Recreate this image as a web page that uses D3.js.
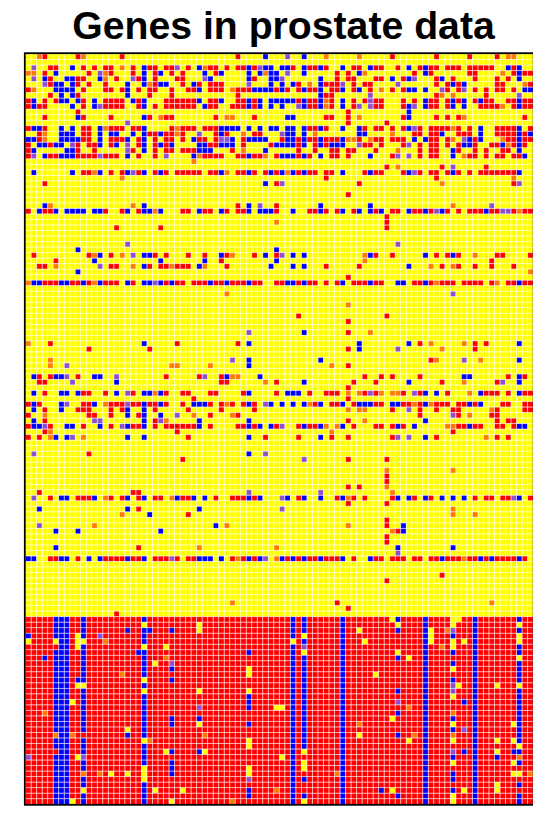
<!DOCTYPE html>
<html><head><meta charset="utf-8">
<script src="https://cdnjs.cloudflare.com/ajax/libs/d3/7.8.5/d3.min.js"></script>
<style>html,body{margin:0;padding:0;background:#fff;overflow:hidden}svg{display:block}</style>
</head><body><svg id="c" width="533" height="818"></svg>
<script>
const chartTitle = "Genes in prostate data";
const geneCount = 92;
const sampleCount = 136;
const firstLowerRow = 102;
const levels = ["y","r","b","o","p"];
const levelColours = ["#ffff00","#ff0000","#0000ff","#ff7a00","#8f50d0"];
// Rows of the upper (yellow background) block: [row, "level+column ..."]
const upperRows = [
[0,"o2 r3 r9 o10 r17 r38 b43 p47 b50 o54 o60 r66 r74 r80 r85 o87 o88"],
[2,"p1 r4 r5 b8 r10 r12 r14 r15 o17 r19 b21 r22 r23 r25 r26 p27 r29 b31 o32 r33 r34 r36 r38 r39 b40 r41 p42 b43 b44 b46 b47 r48 b50 r51 r52 b53 r54 b57 r59 r60 b62 r63 r64 r67 b69 r71 b72 r73 r74 r76 r77 r78 r80 r81 r82 r83 r84 b87 r88 b89"],
[3,"o0 o1 r3 b5 r11 p13 o14 r15 r19 b21 r23 b24 r26 r28 b32 r34 b35 b40 b42 o43 b44 b45 p47 b50 r56 r58 b60 o61 r70 b72 r73 r80 r81 o86 r88 b89 r90 r91"],
[4,"p1 b3 r4 b7 b8 r9 r10 b13 o14 r16 p19 r20 b21 r23 r27 r28 p32 b33 b40 r41 b44 b45 p46 b53 r56 r58 r59 r63 r64 b66 r68 b69 p70 r74 b75 r77 r81 r85 r87 b89"],
[5,"p3 r4 b5 b6 b8 r9 r11 r14 b18 b21 o22 r23 b24 b25 r28 b30 r31 r33 r34 r35 p40 b44 b46 b48 r49 o51 b53 r54 r55 r56 p57 r59 r61 r62 p67 r74 r76 b77 r78 b79 r85 r86 o90 r91"],
[6,"r0 o1 b5 b6 b7 b8 r10 r14 r15 r17 b18 r20 r22 r23 r26 r29 r30 b31 r33 r34 r35 o37 r38 r39 r40 b41 b42 b43 b44 r45 b46 r47 r49 b50 r51 r52 b53 r55 r56 b57 r59 b60 r62 o64 r66 r68 b69 b70 b72 p75 r76 r78 p79 r81 r83 r85 r86 r88 b90 b91"],
[7,"r4 b6 b8 r9 b18 r22 r26 r38 b53 r54 r55 p62 r74 o75 o77 r83 p89"],
[8,"r0 b1 r3 r5 b6 b7 b9 r10 b12 r14 r15 r16 r17 b19 r20 b21 r25 r26 r27 r28 r29 r30 b31 r33 r34 b35 r38 r39 b40 r41 b42 b44 b45 b46 b47 b48 r49 b50 r51 r52 b53 o54 r55 b57 r59 r61 p62 r63 r64 r68 r70 b72 r73 r74 r76 b77 r78 b79 r81 b82 r83 r84 r87 r88 b89 r90 r91"],
[9,"r0 b1 r2 r3 b8 r10 b12 p13 r14 r15 r16 r17 r20 b21 r23 r25 r26 r27 r28 r29 r30 b32 r33 r34 r37 r38 r39 b40 r41 b42 b44 b46 p49 b50 r51 r52 b53 o54 r55 b57 r59 p60 p62 r63 r64 r68 b69 p70 b72 r73 r74 r76 b77 b79 r82 r83 r84 r85 o86 r88 b89 r90 r91"],
[10,"r9 r58 b69"],
[11,"r3 b9 r10 r15 b21 r22 o24 r25 r26 r34 o36 o37 r41 b47 b48 r54 r55 r58 o60 r68 b69 r74 r76 r78 o79 r90"],
[12,"p18 r58 r65"],
[13,"r0 b1 b2 r3 b6 b8 r10 r11 b13 o14 r15 r16 r17 r19 r20 b21 r26 o27 r28 r29 r30 r32 r33 r34 b35 b36 b37 b38 b40 b42 b44 b45 b47 b48 b50 r51 r52 b53 r54 b57 b60 r61 r63 r64 r66 r68 b69 p70 r71 r73 r74 r75 r76 o77 r78 r80 b82 r85 r86 r87 r88 b89 r91"],
[14,"r2 o3 b6 b7 b8 r10 r11 b13 b15 b16 b19 b21 r22 r23 b24 r25 r26 o27 r28 p31 r34 b35 r36 o39 r41 r42 p46 b47 b48 b50 o52 b60 b61 o66 r70 r71 r73 r74 b75 r78 r79 r80 b82 r85 r86 r87 r88 b89 r90 b91"],
[15,"b0 b1 r2 o3 b6 b7 b8 b9 r10 r11 b13 r15 r16 r17 b18 r20 b21 r23 r25 r26 r28 b30 r31 r32 r34 p35 p36 b37 r39 b40 b41 b42 b43 r46 b47 b48 r49 b50 r51 r52 b53 r54 r55 r56 b57 o58 o59 r60 o62 r63 r64 r66 r67 r68 b70 b72 r73 r74 r76 o77 p79 b80 r81 b82 o86 r87 r88 b89 r90 r91"],
[16,"r0 b2 b3 r4 b5 b6 p8 r9 r11 r12 b13 r15 b16 p18 r20 b21 r23 b24 r25 b26 b31 b32 r33 r34 b35 b36 b37 r39 r44 b45 b46 b47 b48 r49 b50 r52 b53 r54 b55 b56 b57 p60 r61 r62 r64 r68 p69 r71 r73 r74 r76 r78 b79 b80 r81 r84 r85 b86 o87 r88 b89 r90"],
[17,"r0 b1 b7 b8 r9 r12 p18 r19 b21 r23 r25 r26 r28 r29 r30 b31 b32 b33 r37 o39 b43 r49 r52 r55 r56 r58 r59 r63 o67 r71 r73 r74 b77 r78 r81 r83 r86 r87 b89"],
[18,"r0 p1 b3 r4 r5 b6 b7 b8 r9 r10 r11 r12 p13 r14 r15 r16 b18 r20 r23 p25 b30 o31 r32 r33 r34 r35 r38 r39 b40 r41 r42 o43 r45 b46 b47 b48 r49 b50 r51 b53 r55 r56 r58 b62 r66 p67 p69 r71 r73 r74 b77 o79 r80 r81 r83 r85 r86 r88 r89 b90"],
[19,"o30"],
[20,"r65 o67 r75 p77 r83"],
[21,"b1 b8 r10 r11 o12 b13 r15 r17 b18 p19 r20 b21 r23 b24 r25 r27 r28 r29 r30 r31 r33 r34 b35 o36 r38 r39 b40 r41 r43 b44 r45 b46 o47 b48 r49 b50 r51 r52 r54 r55 b57 r61 b62 r63 r64 r68 b69 p70 r71 r73 r74 r76 b77 r78 r80 r82 r83 r84 r85 r86 r87 r88 b89"],
[22,"o17 r54 r74 o88"],
[23,"r3 b43 r45 p46 r60 o75 r88 p89"],
[25,"r58"],
[27,"b3 o4 o19 b21 r38 b40 p42 r45 b53 b62 o77 p84"],
[28,"r0 b2 r3 r4 b5 b7 b8 b9 b10 b12 b13 r14 r17 b18 r20 b21 b22 o23 b24 r28 r29 b31 r32 r33 b35 r36 r38 r39 b40 b42 b43 b44 r45 b48 r51 r52 b53 r54 r56 b57 r59 b60 b62 r63 b64 r66 r67 b69 r70 r71 b72 r73 p74 b75 r76 r78 r80 r81 r82 b83 r84 r85 p86 p87 r88 o89 r90 r91"],
[29,"r65"],
[30,"o45 r65"],
[31,"r16 r24 r65"],
[34,"p18 p67"],
[35,"b9 b45"],
[36,"r1 r11 o12 b13 r15 o17 p19 b21 b22 r23 r25 r29 r32 b35 r36 o37 r41 b43 r45 p46 b48 b50 o61 b62 r63 r66 b72 r74 r76 b77 r78 o81 r85 r86 r91"],
[37,"r5 b12 b24 b32 r35 b45 o61 r84"],
[38,"r2 r3 o5 p13 r15 r16 o19 b21 r22 r24 r25 o26 r27 r28 r29 b31 o32 r36 b44 b48 b50 r54 r60 b69 o73 r75 o77 r78 r81 r84 r88"],
[39,"b9 o91"],
[40,"r58"],
[41,"o0 b1 b2 r3 r4 r5 b6 b7 r8 r9 b10 r11 o12 b13 r14 r15 r16 b18 r19 b21 b22 p23 b24 r25 b26 r27 r28 r30 r31 r32 b33 r34 r35 b36 r37 r38 r39 b40 r41 r42 r45 r46 b47 b48 r49 b50 r51 r52 r54 r56 b57 r59 r60 r61 b62 r63 r64 b67 b68 r70 r71 b72 r73 o74 r75 r76 r77 r79 r80 r81 r82 r84 o85 r87 r88 b89 r90 r91"],
[43,"o36 p77"],
[45,"o58"],
[47,"r49 r65"],
[48,"r58"],
[50,"p40 b50 r58 o62"],
[52,"o0 r4 b21 r27 r38 b40 b60 b69 r71 o73 o79 r81 r83 b89"],
[53,"r11 r22 r58 b60 p67 o75 r81"],
[55,"o4 p37 b40 b53 r73 o74 p79 o82 b89"],
[56,"o4 p7 o26 o27 o33 b40 o55 r58"],
[58,"b1 r2 r4 b5 b6 p7 r9 b12 b13 p16 r25 r31 p32 r35 b36 o37 o38 b42 r61 r64 r66 r71 b79 b80 r87 b89 r90"],
[59,"r2 r3 p8 b16 r35 r36 o43 r45 b50 r59 r63 b69 r75 o79 r85 p86 b89"],
[60,"r58"],
[61,"b1 r3 b6 b7 b9 r10 r11 r14 b16 p18 r19 b21 b22 o23 b24 r25 r28 r29 r33 r34 r39 b40 r45 b47 b48 b49 r51 r54 r55 r56 o58 o60 r61 p62 r63 o64 o66 o67 r68 p70 r71 b72 b74 r76 o80 b82 r83 r84 r85 r87 b89 r90 r91"],
[62,"r30 r58"],
[63,"r0 b1 r2 b6 p7 r10 r11 b12 o14 r15 r16 r17 p18 r19 r20 b21 r22 r23 b24 r25 r28 b30 b31 b32 r33 r35 o36 r37 r39 b40 r41 p43 b44 b46 b48 b50 o51 r52 b53 r55 r56 b57 r59 b60 b61 b62 r63 r64 b66 b67 r68 r69 o70 r71 b72 o73 r74 r75 r76 r78 r79 b80 r81 b82 r86 r87 r90 r91"],
[64,"b1 r3 b6 r9 r10 r11 r15 r17 b18 b21 r23 r29 r35 r41 o58 o60 o61 r66 p69 r71 r74 r77 r78 o84 r85 r90 r91"],
[65,"r0 o3 r11 r12 r15 b18 r20 b21 b24 p27 o30 r33 o37 r38 r71 p77 r78 o80 r84 r85"],
[66,"b1 r3 p12 p13 b21 r23 p24 o25 b31 b40 r58 o61 b72 r85 r87 r88"],
[67,"r0 b1 b2 p3 r4 b7 b8 r10 b13 r15 p17 b18 r19 r20 b21 r23 r25 r26 r27 r28 r29 r30 b31 r33 r38 r39 b40 r41 b42 b44 r45 p46 r49 b50 r51 r52 b53 o54 o56 b57 r59 r63 r64 r66 b67 r68 b70 o76 o77 r78 r79 b80 r81 r82 r85 r86 r88 b89 b90"],
[68,"r3 o4 r27 o55 r77"],
[69,"r0 r2 o4 b5 b7 p8 o10 b18 b21 r29 b40 r43 r49 b53 r55 r58 r66 p67 p69 b72 r74 o83 r85 r87"],
[72,"p1 r11 b40 p43"],
[73,"r28 p50 r58 r65"],
[75,"o65 o77"],
[76,"r65"],
[77,"r65"],
[78,"r58 r60 o65"],
[79,"r2 r19 r20 p40 p53 o66"],
[80,"p1 r4 b6 b7 r9 r10 r11 b12 o14 r15 r17 b18 r20 b21 r23 r24 o26 b27 r28 r29 b30 b32 r34 r37 r38 r39 b40 r41 b42 p46 b47 r49 b50 b53 r56 b57 o58 r59 r61 r66 b67 b69 r70 b72 r73 b75 b77 b79 r81 r83 r84 r86 r87 p88 b89 r91"],
[81,"r58 r65"],
[82,"b2 b18 r20 b31 p46 o77"],
[83,"o17 b22 r29 o77 o81"],
[84,"r65"],
[85,"p2 o12 b34 o36 o58 r65 b68"],
[86,"b5 b9 b24 o66 r67 b68"],
[87,"r65"],
[88,"r65"],
[89,"b5 r20 o31 o45 b67 b77"],
[90,"p67"],
[91,"b0 b1 r4 r5 b6 b7 r9 b11 b13 r14 r15 r16 r17 b18 r19 r20 b21 r23 r24 r25 p26 r27 r29 r30 b31 b32 b33 b35 r37 o38 r39 b40 r41 b42 p43 o45 b46 r47 b48 r49 b50 r51 r52 b53 r54 r55 r56 b57 r59 b62 r63 r64 r66 r67 r68 r70 r71 r73 r74 b75 r76 r77 r78 o79 r80 r81 b82 r83 b84 r85 r86 r87 r88 b89 r90"],
[94,"r75"],
[95,"r65"],
[99,"o37 r56 o84"],
[100,"r58"],
[101,"r16"]
];
// Lower (red background) block: columns that are blue, then per-row exceptions
const lowerBlueColumns = [5,6,7,10,21,48,50,57,72,81,89];
const lowerRows = [
[102,"y66 b67 y77 y78"],
[103,"y21 y31 y67 y77 y89"],
[104,"b18 b22 b26 y31 y60 b67 y73 o76 p77"],
[105,"b0 y9 p13 y50 y73 b77 y89"],
[106,"y0 y5 y9 y10 o14 y48 y61 y73 y77 y79 y89"],
[107,"r5 y9 y21 y25 p50 o75 y77"],
[108,"b20 b40 y50 y67 b77"],
[109,"b3 o25 b67 y69 y89"],
[110,"y23 p26 b77"],
[111,"b26 y40 y77"],
[112,"o17 y40 y63"],
[113,"b9 y21 b26 b77"],
[114,"y9 y10 p77 y78 y85 y89"],
[115,"y21 y31 y40 b67 p77"],
[116,"b40 y77"],
[117,"y8 b40 p67 b79"],
[118,"p31 b40 y45 y46 o69"],
[119,"o3 b67 o77"],
[120,"b26 b31 y66 b77"],
[121,"b26 y31 b40 o60 y77 y88"],
[122,"y18 b77 p79"],
[123,"o5 o8 r10 b18 o32 y60 b67 o70 o77"],
[124,"y21 o22 y40 y69 y77 y85 y88"],
[125,"y40 y89"],
[126,"r5 y25 b26 b31 y32 y50 p77 b79 y85 b88"],
[127,"p0 y9 p10 y46 r50 b77 b85 o89"],
[128,"b26 y50 y77 y88"],
[129,"y21 b26 y40 y50 r89"],
[130,"o10 o13 y15 y18 y21 b26 y40 r50 o56 b77 y88 y89 o91"],
[131,"y21 p40 b77 r89"],
[132,"r50 y85"],
[133,"y10 y23 y28 b40 o45 r50 b64 y66 b77 y79 y85 r89"],
[134,"b40 b67 y77"],
[135,"y8 y26 o37 y50 y77"]
];

const plot = {left:25.6, right:533.1, top:54, bottom:804.2};
const svg = d3.select("#c");
const x = d3.scaleBand().domain(d3.range(geneCount)).range([plot.left, plot.right]);
const y = d3.scaleBand().domain(d3.range(sampleCount)).range([plot.top, plot.bottom]);
const colour = d3.scaleOrdinal(levels, levelColours);

const grid = new Map();
for (const r of d3.range(sampleCount)) for (const c of d3.range(geneCount)) {
  let v = r < firstLowerRow ? "y" : (lowerBlueColumns.includes(c) ? "b" : "r");
  grid.set(r + ":" + c, {r, c, v});
}
for (const [r, s] of upperRows.concat(lowerRows)) {
  for (const t of s.split(" ")) grid.get(r + ":" + (+t.slice(1))).v = t[0];
}
svg.append("g").selectAll("rect").data(Array.from(grid.values())).join("rect")
  .attr("x", d => x(d.c) + 0.2).attr("y", d => y(d.r) + 0.2)
  .attr("width", x.bandwidth() - 0.4).attr("height", y.bandwidth() - 0.4)
  .attr("fill", d => colour(d.v))
  .attr("stroke", d => colour(d.v)).attr("stroke-width", 0.1);

// white separators between the cells
const sep = svg.append("g").attr("stroke", "#fff").attr("stroke-width", 0.55).attr("stroke-opacity", 0.85);
sep.selectAll("line.v").data(d3.range(1, geneCount)).join("line")
  .attr("x1", d => x(d)).attr("x2", d => x(d)).attr("y1", plot.top).attr("y2", plot.bottom);
sep.selectAll("line.h").data(d3.range(1, sampleCount)).join("line")
  .attr("y1", d => y(d)).attr("y2", d => y(d)).attr("x1", plot.left).attr("x2", plot.right);

svg.append("rect").attr("x", plot.left - 0.8).attr("y", plot.top - 0.8)
  .attr("width", plot.right - plot.left + 1.4).attr("height", plot.bottom - plot.top + 1.4)
  .attr("fill", "none").attr("stroke", "#000").attr("stroke-width", 1.8);

svg.append("text").attr("x", 283.5).attr("y", 39).attr("text-anchor", "middle")
  .attr("font-family", "'Liberation Sans', Arial, sans-serif").attr("font-weight", "bold")
  .attr("font-size", 39.2).attr("fill", "#000").text(chartTitle);
</script></body></html>
